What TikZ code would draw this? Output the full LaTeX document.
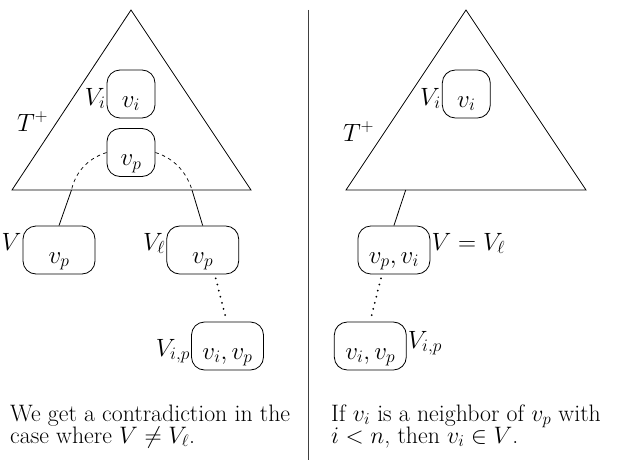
\RequirePackage{fix-cm}
\documentclass[tikz,border=0pt]{standalone}
\usepackage{fontspec}
\usetikzlibrary{calc}
\begin{document}
\begin{tikzpicture}[x=1pt,y=-1pt,
  edge/.style={line width=0.8pt},
  box/.style={draw, line width=0.8pt, rounded corners=13pt, inner sep=0pt,
    text height=37pt, text depth=11pt, font=\fontsize{25}{25}\selectfont},
  lbl/.style={inner sep=1pt, font=\fontsize{25}{25}\selectfont},
  txt/.style={inner sep=0pt, anchor=base west, text height=16pt, text depth=5pt,
    font=\fontsize{23.8}{22}\selectfont},
  dashcurve/.style={line width=0.7pt, dash pattern=on 3.5pt off 3.5pt},
  dotline/.style={line width=2pt, line cap=round, dash pattern=on 0pt off 6.3pt}]
\useasboundingbox (0,0) rectangle (621,460);

% separator
\draw[black!75, line width=0.8pt] (308,10) -- (308,460);

% ---------------- left panel ----------------
\draw[edge] (131,10) -- (12,190) -- (251,190) -- cycle;
\node[box, minimum width=48pt, minimum height=48pt] (viL) at (131,94) {$v_i$};
\node[lbl, anchor=base east] at ($(viL.west)+(0,11)$) {$V_i$};
\node[lbl, anchor=base west, inner sep=0pt] at (17,131) {$T^+$};
\node[box, minimum width=48pt, minimum height=48pt] (vpL) at (131,152.5) {$v_p$};
\coordinate (bl) at (71.5,190);
\coordinate (br) at (192,190);
\node[box, minimum width=72pt, minimum height=48pt] (V) at (59,250) {$v_p$};
\node[lbl, anchor=base east] at ($(V.west)+(0,0)$) {$V$};
\node[box, minimum width=72pt, minimum height=48pt] (Vl) at (202.7,250) {$v_p$};
\node[lbl, anchor=base east] at ($(Vl.west)+(0,0)$) {$V_\ell$};
\node[box, minimum width=72pt, minimum height=48pt] (VipL) at (227.5,346) {$v_i, v_p$};
\node[lbl, anchor=base east] at ($(VipL.west)+(0,10)$) {$V_{i,p}$};

\draw[dashcurve] (vpL.west) .. controls (86,159) and (75,174) .. (bl);
\draw[dashcurve] (vpL.east) .. controls (176,159) and (187,174) .. (br);
\draw[edge] (bl) -- (V.north);
\draw[edge] (br) -- (Vl.north);
\draw[dotline] ($(Vl.south)+(13,4)$) -- ($(VipL.north)+(-1,-1)$);

\node[txt] (tl1) at (10,421) {We get a contradiction in the};
\node[txt] (tl2) at (10,443) {case where $V \neq V_\ell$.};

% ---------------- right panel ----------------
\draw[edge] (466,10) -- (346,190) -- (586,190) -- cycle;
\node[box, minimum width=48pt, minimum height=48pt] (viR) at (466.3,94) {$v_i$};
\node[lbl, anchor=base east] at ($(viR.west)+(0,11)$) {$V_i$};
\node[lbl, anchor=base west, inner sep=0pt] at (343,141) {$T^+$};
\coordinate (b2) at (405.7,190);
\node[box, minimum width=72pt, minimum height=48pt] (VR) at (393.9,250) {$v_p, v_i$};
\node[lbl, anchor=base west] at ($(VR.east)+(0,0)$) {$V = V_\ell$};
\node[box, minimum width=72pt, minimum height=48pt] (VipR) at (370.3,346) {$v_i, v_p$};
\node[lbl, anchor=base west] at ($(VipR.east)+(0,2)$) {$V_{i,p}$};
\draw[edge] (b2) -- (VR.north);
\draw[dotline] ($(VR.south)+(-13,4)$) -- ($(VipR.north)+(0,-1)$);

\node[txt] (tr1) at (331,421) {If $v_i$ is a neighbor of $v_p$ with};
\node[txt] (tr2) at (331,443) {$i < n$, then $v_i \in V$.};
\end{tikzpicture}
\end{document}
